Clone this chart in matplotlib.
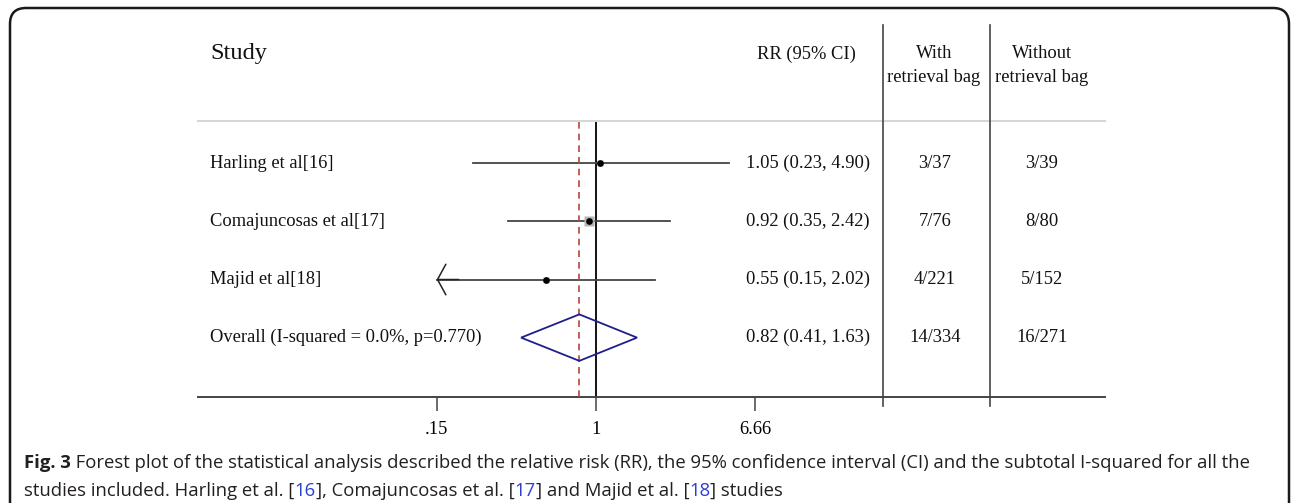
import numpy as np
import matplotlib
matplotlib.use("Agg")
import matplotlib.pyplot as plt
import matplotlib.transforms as mtransforms
from matplotlib.patches import FancyBboxPatch
from matplotlib.lines import Line2D

# study data
studies = ["Harling et al[16]", "Comajuncosas et al[17]", "Majid et al[18]"]
rr = [1.05, 0.92, 0.55]
ci_lo = [0.23, 0.35, 0.15]
ci_hi = [4.90, 2.42, 2.02]
weights = [23.0, 55.0, 22.0]
with_bag = ["3/37", "7/76", "4/221"]
without_bag = ["3/39", "8/80", "5/152"]

overall_label = "Overall (I-squared = 0.0%, p=0.770)"
overall_rr = 0.82
overall_lo = 0.41
overall_hi = 1.63
overall_with = "14/334"
overall_without = "16/271"

xticks = [0.15, 1, 6.66]
xticklabels = [".15", "1", "6.66"]

W, H = 1292, 503
fig = plt.figure(figsize=(W / 100, H / 100), dpi=100)
fig.patch.set_facecolor("white")

serif = "Liberation Serif"
sans = "Open Sans"


def fx(px):
    return px / W


def fy(py):
    return 1 - py / H


# forest axes: 1 sits at x=596 px, 84 px per log unit
ax = fig.add_axes([fx(198), fy(397), fx(1105) - fx(198), fy(120.5) - fy(397)])
ax.set_xscale("log")
ax.set_xlim(np.exp((198 - 596) / 84), np.exp((1105 - 596) / 84))
ax.set_ylim(4.022, -0.737)
ax.patch.set_alpha(0)
for s in ["left", "right"]:
    ax.spines[s].set_visible(False)
ax.spines["top"].set_color("#d6d6d6")
ax.spines["top"].set_linewidth(1.5)
ax.spines["bottom"].set_color("#444444")
ax.spines["bottom"].set_linewidth(1.4)
ax.set_yticks([])
ax.set_xticks(xticks)
ax.set_xticklabels(xticklabels, fontfamily=serif, fontsize=13.3)
ax.minorticks_off()
ax.tick_params(axis="x", length=10, width=1.1, color="#444444", pad=7)

ax.axvline(1, color="black", lw=1.3, zorder=2)
ax.axvline(overall_rr, color="#b5443f", lw=1.2, ls=(0, (4, 3)), zorder=3)

x_floor = 0.15
for i in range(len(studies)):
    if ci_lo[i] <= x_floor:
        ax.plot([x_floor, ci_hi[i]], [i, i], color="#444444", lw=1.3, zorder=2)
        ax.annotate("", xy=(x_floor, i), xytext=(x_floor * 1.3, i),
                    arrowprops=dict(arrowstyle="->,head_length=0.3,head_width=0.55",
                                    color="#222222", lw=1.1, mutation_scale=20,
                                    shrinkA=0, shrinkB=0))
    else:
        ax.plot([ci_lo[i], ci_hi[i]], [i, i], color="#444444", lw=1.3, zorder=2)
    ax.plot(rr[i], i, marker="s", ms=np.sqrt(weights[i]) * 0.97,
            color="#b4b4b4", mec="none", zorder=4)
    ax.plot(rr[i], i, marker="o", ms=3.8, color="black", zorder=5)

yo = len(studies)
dh = 0.40
ax.fill([overall_lo, overall_rr, overall_hi, overall_rr, overall_lo],
        [yo, yo - dh, yo, yo + dh, yo], facecolor="none",
        edgecolor="#1f1f8c", lw=1.3, zorder=4)

# table text
tr = mtransforms.blended_transform_factory(fig.transFigure, ax.transData)
labels = studies + [overall_label]
rr_txt = ["%.2f (%.2f, %.2f)" % (rr[i], ci_lo[i], ci_hi[i]) for i in range(len(rr))]
rr_txt.append("%.2f (%.2f, %.2f)" % (overall_rr, overall_lo, overall_hi))
col_with = with_bag + [overall_with]
col_without = without_bag + [overall_without]
for i in range(len(labels)):
    ax.text(fx(210), i, labels[i], transform=tr, ha="left", va="center",
            fontfamily=serif, fontsize=13.3, color="#111111")
    ax.text(fx(808), i, rr_txt[i], transform=tr, ha="center", va="center",
            fontfamily=serif, fontsize=13.3, color="#111111")
    ax.text(fx(935), i, col_with[i], transform=tr, ha="center", va="center",
            fontfamily=serif, fontsize=13.3, color="#111111")
    ax.text(fx(1042), i, col_without[i], transform=tr, ha="center", va="center",
            fontfamily=serif, fontsize=13.3, color="#111111")

# headers
fig.text(fx(210), fy(54), "Study", ha="left", va="center", fontfamily=serif,
         fontsize=17.5, color="#111111")
fig.text(fx(806), fy(54), "RR (95% CI)", ha="center", va="center",
         fontfamily=serif, fontsize=13.3, color="#111111")
fig.text(fx(934), fy(53.5), "With", ha="center", va="center",
         fontfamily=serif, fontsize=13.3, color="#111111")
fig.text(fx(934), fy(77), "retrieval bag", ha="center", va="center",
         fontfamily=serif, fontsize=13.3, color="#111111")
fig.text(fx(1042), fy(53.5), "Without", ha="center", va="center",
         fontfamily=serif, fontsize=13.3, color="#111111")
fig.text(fx(1042), fy(77), "retrieval bag", ha="center", va="center",
         fontfamily=serif, fontsize=13.3, color="#111111")

# column separators
for xs in [883, 990]:
    fig.add_artist(Line2D([fx(xs), fx(xs)], [fy(25), fy(406)],
                          color="#444444", lw=1.2, transform=fig.transFigure))

# rounded frame
frame = FancyBboxPatch((10, -40), 1279, H - 8 + 40,
                       boxstyle="round,pad=0,rounding_size=16",
                       facecolor="none", edgecolor="#1a1a1a", lw=1.8,
                       transform=None)
fig.add_artist(frame)

# caption, built piece by piece
cap_color = "#231f20"
ref_color = "#2b3fd6"
cap_size = 13.3
lines = [
    [("Fig. 3", "bold", cap_color),
     (" Forest plot of the statistical analysis described the relative risk (RR), "
      "the 95% confidence interval (CI) and the subtotal I-squared for all the",
      "normal", cap_color)],
    [("studies included. Harling et al. [", "normal", cap_color),
     ("16", "normal", ref_color),
     ("], Comajuncosas et al. [", "normal", cap_color),
     ("17", "normal", ref_color),
     ("] and Majid et al. [", "normal", cap_color),
     ("18", "normal", ref_color),
     ("] studies", "normal", cap_color)],
]
line_y = [472, 500]
for ly, parts in zip(line_y, lines):
    prev = None
    for txt, wt, col in parts:
        if prev is None:
            prev = fig.text(fx(24), fy(ly), txt, ha="left", va="bottom",
                            fontfamily=sans, fontsize=cap_size,
                            fontweight=wt, color=col)
        else:
            prev = fig.add_artist(matplotlib.text.Annotation(
                txt, xy=(1, 0), xycoords=prev, ha="left", va="bottom",
                fontfamily=sans, fontsize=cap_size, fontweight=wt, color=col))

fig.savefig("out.png", dpi=100)
